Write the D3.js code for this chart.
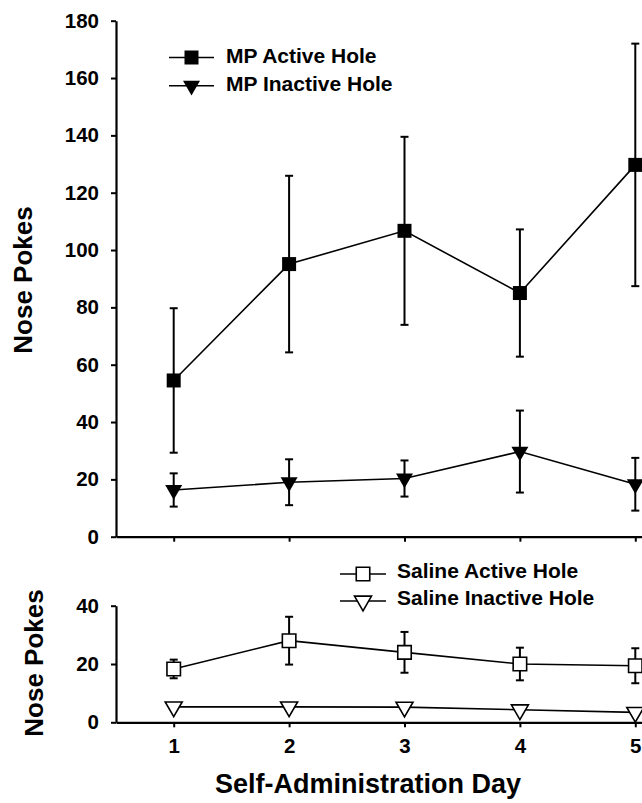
<!DOCTYPE html>
<html>
<head>
<meta charset="utf-8">
<script src="https://cdn.jsdelivr.net/npm/d3@7"></script>
<style>
  body { margin: 0; background: #fff; }
  svg text { font-family: "Liberation Sans", Arial, sans-serif; font-weight: bold; fill: #000; }
</style>
</head>
<body>
<script>
const w = 642;
const h = 803;

// data (mean and SEM per day)
const days = [1, 2, 3, 4, 5];
const mpActive = [54.5, 95.1, 106.7, 85, 129.7];
const mpActiveErr = [25.2, 30.8, 32.8, 22.2, 42.3];
const mpInactive = [16.3, 19, 20.3, 29.7, 18.3];
const mpInactiveErr = [5.8, 8, 6.3, 14.3, 9.2];
const salActive = [18.3, 28, 24, 20, 19.4];
const salActiveErr = [3.2, 8.2, 7, 5.6, 6];
const salInactive = [5.3, 5.3, 5.2, 4.3, 3.4];

const topTicks = [0, 20, 40, 60, 80, 100, 120, 140, 160, 180];
const bottomTicks = [0, 20, 40];

const svg = d3.select('body')
   .append('svg')
   .attr('width', w)
   .attr('height', h);

const xScale = d3.scaleLinear()
   .domain([0.5, 5.5])
   .range([116, 693]);

const yTop = d3.scaleLinear()
   .domain([0, 180])
   .range([536.7, 20.7]);

const yBottom = d3.scaleLinear()
   .domain([0, 40])
   .range([722.3, 605.7]);

const squareSym = d3.symbol().type(d3.symbolSquare).size(196);
const openSquareSym = d3.symbol().type(d3.symbolSquare).size(182);
const triSym = d3.symbol().type(d3.symbolTriangle).size(125);

function axes(yScale, ticks, labels) {
   const yAxis = d3.axisLeft(yScale)
      .tickValues(ticks)
      .tickSize(5)
      .tickSizeOuter(0)
      .tickPadding(12);

   const xAxis = d3.axisBottom(xScale)
      .tickValues(days)
      .tickSize(5)
      .tickSizeOuter(0)
      .tickPadding(11.5)
      .tickFormat(labels ? d3.format('d') : () => '');

   const gx = svg.append('g')
      .attr('transform', 'translate(0,' + yScale(0) + ')')
      .call(xAxis);

   const gy = svg.append('g')
      .attr('transform', 'translate(' + xScale(0.5) + ',0)')
      .call(yAxis);

   [gx, gy].forEach((g) => {
      g.select('.domain').attr('stroke-width', 2.2);
      g.selectAll('.tick line').attr('stroke-width', 2);
      g.selectAll('.tick text').style('font-size', '20.5px');
   });
}

function series(yScale, vals, errs, sym, fill) {
   const g = svg.append('g');

   if (errs) {
      const bars = g.selectAll('.err')
         .data(days)
         .enter()
         .append('g')
         .attr('stroke', '#000')
         .attr('stroke-width', 2);

      bars.append('line')
         .attr('x1', (d) => xScale(d))
         .attr('x2', (d) => xScale(d))
         .attr('y1', (d, i) => yScale(vals[i] + errs[i]))
         .attr('y2', (d, i) => yScale(vals[i] - errs[i]));

      bars.append('line')
         .attr('x1', (d) => xScale(d) - 4)
         .attr('x2', (d) => xScale(d) + 4)
         .attr('y1', (d, i) => yScale(vals[i] + errs[i]))
         .attr('y2', (d, i) => yScale(vals[i] + errs[i]));

      bars.append('line')
         .attr('x1', (d) => xScale(d) - 4)
         .attr('x2', (d) => xScale(d) + 4)
         .attr('y1', (d, i) => yScale(vals[i] - errs[i]))
         .attr('y2', (d, i) => yScale(vals[i] - errs[i]));
   }

   const line = d3.line()
      .x((d) => xScale(d))
      .y((d, i) => yScale(vals[i]));

   g.append('path')
      .datum(days)
      .attr('d', line)
      .attr('fill', 'none')
      .attr('stroke', '#000')
      .attr('stroke-width', 1.6);

   g.selectAll('.mark')
      .data(days)
      .enter()
      .append('path')
      .attr('d', sym)
      .attr('transform', (d, i) => 'translate(' + xScale(d) + ',' + yScale(vals[i]) + ')'
         + (sym === triSym ? ' rotate(180)' : ''))
      .attr('fill', fill)
      .attr('stroke', '#000')
      .attr('stroke-width', fill === '#000' ? 0 : 1.6);
}

axes(yTop, topTicks, false);
axes(yBottom, bottomTicks, true);

series(yTop, mpActive, mpActiveErr, squareSym, '#000');
series(yTop, mpInactive, mpInactiveErr, triSym, '#000');
series(yBottom, salActive, salActiveErr, openSquareSym, '#fff');
series(yBottom, salInactive, null, triSym, '#fff');

// legends
function legend(x0, x1, xt, items) {
   items.forEach((it) => {
      const g = svg.append('g');
      g.append('line')
         .attr('x1', x0).attr('x2', x1)
         .attr('y1', it.y).attr('y2', it.y)
         .attr('stroke', '#000').attr('stroke-width', 1.6);
      g.append('path')
         .attr('d', it.sym)
         .attr('transform', 'translate(' + ((x0 + x1) / 2) + ',' + it.y + ')'
            + (it.sym === triSym ? ' rotate(180)' : ''))
         .attr('fill', it.fill)
         .attr('stroke', '#000')
         .attr('stroke-width', it.fill === '#000' ? 0 : 1.6);
      g.append('text')
         .attr('x', xt)
         .attr('y', it.y + it.dy)
         .style('font-size', '21px')
         .text(it.label);
   });
}

legend(169, 214, 226, [
   { label: 'MP Active Hole', y: 57.5, dy: 5.2, sym: squareSym, fill: '#000' },
   { label: 'MP Inactive Hole', y: 85.7, dy: 5, sym: triSym, fill: '#000' }
]);

legend(340, 386, 397, [
   { label: 'Saline Active Hole', y: 574, dy: 3.5, sym: openSquareSym, fill: '#fff' },
   { label: 'Saline Inactive Hole', y: 601, dy: 4, sym: triSym, fill: '#fff' }
]);

// axis titles
svg.append('text')
   .attr('transform', 'translate(31.5,280) rotate(-90)')
   .attr('text-anchor', 'middle')
   .style('font-size', '26px')
   .text('Nose Pokes');

svg.append('text')
   .attr('transform', 'translate(43.3,663) rotate(-90)')
   .attr('text-anchor', 'middle')
   .style('font-size', '26px')
   .text('Nose Pokes');

svg.append('text')
   .attr('x', 368)
   .attr('y', 793)
   .attr('text-anchor', 'middle')
   .style('font-size', '27px')
   .text('Self-Administration Day');
</script>
</body>
</html>
